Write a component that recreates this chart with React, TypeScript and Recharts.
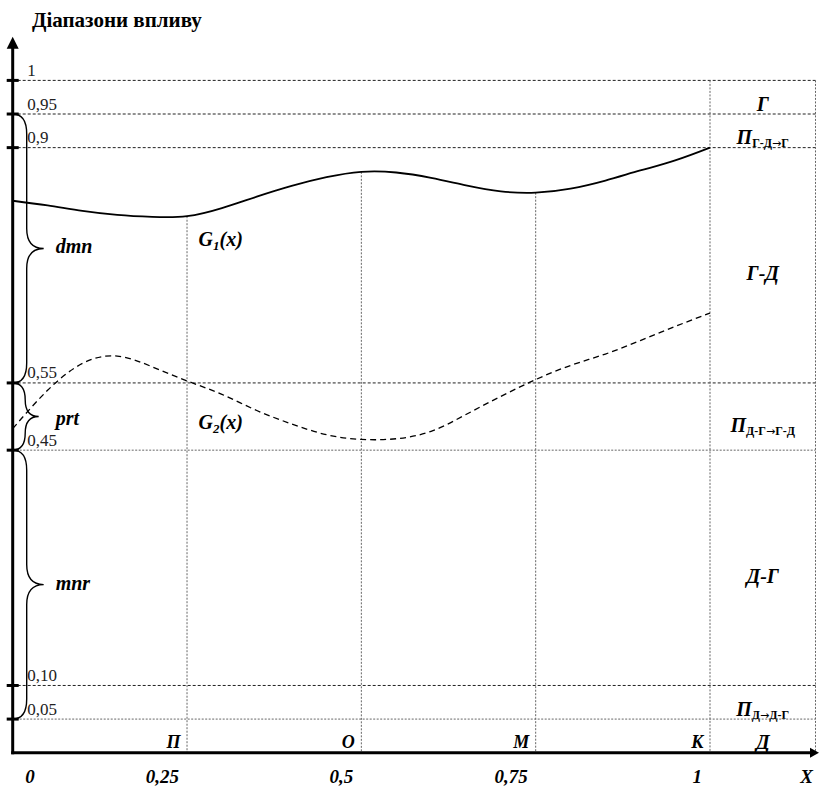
import React from 'react';
import { LineChart, Line, XAxis, YAxis, ReferenceLine, ReferenceArea, ReferenceDot } from 'recharts';

// ---- data ----
const xs = [0, 0.05, 0.1, 0.15, 0.2, 0.25, 0.3, 0.35, 0.4, 0.45, 0.5, 0.55, 0.6, 0.65, 0.7, 0.75, 0.8, 0.85, 0.9, 0.95, 1];
const g1 = [0.821, 0.814, 0.806, 0.8, 0.797, 0.798, 0.81, 0.827, 0.843, 0.856, 0.864, 0.863, 0.855, 0.844, 0.835, 0.833, 0.839, 0.851, 0.866, 0.881, 0.9];
const g2 = [0.482, 0.539, 0.579, 0.59, 0.574, 0.553, 0.533, 0.509, 0.489, 0.473, 0.466, 0.467, 0.478, 0.503, 0.53, 0.555, 0.576, 0.593, 0.613, 0.634, 0.654];

const xTicks = [0, 0.25, 0.5, 0.75, 1];
const xTickLabels = ['0', '0,25', '0,5', '0,75', '1'];
const xAxisName = 'X';

const pointXs = [0.25, 0.5, 0.75, 1];
const pointNames = ['П', 'О', 'М', 'К'];

const levels = [1, 0.95, 0.9, 0.55, 0.45, 0.1, 0.05];
const levelLabels = ['1', '0,95', '0,9', '0,55', '0,45', '0,10', '0,05'];

const zoneLow = [0.95, 0.9, 0.55, 0.45, 0.1, 0.05, 0];
const zoneHigh = [1, 0.95, 0.9, 0.55, 0.45, 0.1, 0.05];
const zoneNames = ['Г', 'П', 'Г-Д', 'П', 'Д-Г', 'П', 'Д'];
const zoneSubFrom = ['', 'Г-Д', '', 'Д-Г', '', 'Д', ''];
const zoneSubTo = ['', 'Г', '', 'Г-Д', '', 'Д-Г', ''];

const bandTop = [0.95, 0.55, 0.45];
const bandBottom = [0.55, 0.45, 0.05];
const bandNames = ['dmn', 'prt', 'mnr'];

const curveNames = ['G', 'G'];
const curveSubs = ['1', '2'];
const title = 'Діапазони впливу';

// ---- layout / style constants ----
const W = 819;
const H = 787;
const X_MAX = 1.1563;
const X_FRAME = 1.1513;
const Y_MAX = 1.065;
const TOP = 36.7;
const AXIS_W = 12.7;
const XAXIS_H = 34.3;
const SERIF = 'Liberation Serif';
const fineLevels = [0.45, 0.05];

const rows = xs.map((x, i) => ({ x, g1: g1[i], g2: g2[i] }));
const g1At = (x: number) => g1[xs.indexOf(x)];
const g2At = (x: number) => g2[xs.indexOf(x)];

const boldItalic = { fontFamily: SERIF, fontWeight: 'bold' as const, fontStyle: 'italic' as const, fill: '#000' };

const XTick = (p: any) => {
  const v = p.payload.value;
  const i = xTicks.indexOf(v);
  const label = i >= 0 ? xTickLabels[i] : xAxisName;
  const dx = v === 0 ? 22 : i >= 0 ? -8 : -6;
  return (
    <text x={p.x + dx} y={p.y + 30.5} textAnchor="end" fontSize={19} {...boldItalic}>
      {label}
    </text>
  );
};

const YTick = (p: any) => {
  const i = levels.indexOf(p.payload.value);
  return (
    <g>
      <line x1={p.x - 6} x2={p.x + 6} y1={p.y} y2={p.y} stroke="#000" strokeWidth={3} />
      <text x={p.x + 14.5} y={p.y - 4.5} fontSize={17} fontFamily={SERIF} fill="#222">
        {levelLabels[i]}
      </text>
    </g>
  );
};

const yAxisShape = (p: any) => {
  const top = Math.min(p.y1, p.y2);
  const bot = Math.max(p.y1, p.y2);
  return (
    <g>
      <line x1={p.x1} x2={p.x1} y1={bot + 1.5} y2={top + 8} stroke="#000" strokeWidth={3} />
      <polygon points={`${p.x1},${top} ${p.x1 - 6},${top + 12} ${p.x1 + 6},${top + 12}`} fill="#000" />
    </g>
  );
};

const xAxisShape = (p: any) => {
  const left = Math.min(p.x1, p.x2);
  const right = Math.max(p.x1, p.x2);
  return (
    <g>
      <line x1={left - 1.5} x2={right - 6} y1={p.y1} y2={p.y1} stroke="#000" strokeWidth={3} />
      <polygon points={`${right},${p.y1} ${right - 9},${p.y1 - 5} ${right - 9},${p.y1 + 5}`} fill="#000" />
    </g>
  );
};

const dropShape = (letter: string) => (p: any) => {
  const top = Math.min(p.y1, p.y2);
  const bot = Math.max(p.y1, p.y2);
  return (
    <g>
      <line x1={p.x1} x2={p.x1} y1={top} y2={bot} stroke="#666" strokeWidth={1} strokeDasharray="2 1.5" />
      {letter ? (
        <text x={p.x1 - 6.5} y={bot - 5} textAnchor="end" fontSize={18} {...boldItalic}>
          {letter}
        </text>
      ) : null}
    </g>
  );
};

const braceShape = (name: string) => (p: any) => {
  const top = Math.min(p.y1, p.y2);
  const bot = Math.max(p.y1, p.y2);
  const x0 = p.x1;
  const h = bot - top;
  const mid = (top + bot) / 2;
  const small = h < 90;
  const xv = x0 + (small ? 12.5 : 14);
  const xt = x0 + (small ? 26 : 31);
  const r = Math.min(20, h / 4);
  const d = `M${x0},${top} Q${xv},${top} ${xv},${top + r} L${xv},${mid - r} Q${xv},${mid} ${xt},${mid} Q${xv},${mid} ${xv},${mid + r} L${xv},${bot - r} Q${xv},${bot} ${x0},${bot}`;
  return (
    <g>
      <path d={d} fill="none" stroke="#000" strokeWidth={1.4} />
      <text x={x0 + 43} y={mid + (small ? 8 : 5)} fontSize={20} {...boldItalic}>
        {name}
      </text>
    </g>
  );
};

const zoneShape = (name: string, from: string, to: string) => (p: any) => {
  const cx = p.x + p.width / 2;
  const small = p.height < 45;
  const base = small ? p.y + p.height - 3.5 : p.y + p.height / 2 + 15;
  return (
    <text x={cx} y={base} textAnchor="middle" fontSize={20} {...boldItalic}>
      {name}
      {from ? (
        <tspan fontSize={12} fontStyle="normal" dy={3}>
          {from}
          <tspan fontFamily="DejaVu Sans" fontWeight="normal" fontSize={11}>→</tspan>
          {to}
        </tspan>
      ) : null}
    </text>
  );
};

const curveLabelShape = (name: string, sub: string, dy: number) => (p: any) => (
  <text x={p.cx + 11.5} y={p.cy + dy} fontSize={20} {...boldItalic}>
    {name}
    <tspan fontSize={13} dy={4}>
      {sub}
    </tspan>
    <tspan dy={-4}>(x)</tspan>
  </text>
);

export default function App() {
  return (
    <div style={{ position: 'absolute', left: 0, top: 0, width: W, height: H, background: '#fff', fontFamily: SERIF }}>
      <div
        style={{
          position: 'absolute',
          left: 32,
          top: 10,
          fontFamily: SERIF,
          fontWeight: 'bold',
          fontSize: 21,
          lineHeight: '21px',
          color: '#000',
          whiteSpace: 'nowrap',
        }}
      >
        {title}
      </div>
      <LineChart width={W} height={H} data={rows} margin={{ top: TOP, right: 0, bottom: 0, left: 0 }}>
        <XAxis
          dataKey="x"
          type="number"
          domain={[0, X_MAX]}
          allowDataOverflow
          ticks={[...xTicks, X_MAX]}
          interval={0}
          tick={(p: any) => <XTick {...p} />}
          axisLine={false}
          tickLine={false}
          tickSize={0}
          tickMargin={0}
          height={XAXIS_H}
        />
        <YAxis
          type="number"
          domain={[0, Y_MAX]}
          allowDataOverflow
          ticks={levels}
          interval={0}
          tick={(p: any) => <YTick {...p} />}
          axisLine={false}
          tickLine={false}
          tickSize={0}
          tickMargin={0}
          width={AXIS_W}
        />

        {levels.map((v) => (
          <ReferenceLine
            key={'lv' + v}
            segment={[{ x: 0, y: v }, { x: X_FRAME, y: v }]}
            stroke={fineLevels.includes(v) ? '#666' : '#222'}
            strokeWidth={1}
            strokeDasharray={fineLevels.includes(v) ? '2 1.5' : '3 2'}
            ifOverflow="visible"
          />
        ))}

        {pointXs.map((x, i) => (
          <ReferenceLine
            key={'pt' + x}
            segment={[{ x, y: 0 }, { x, y: x === 1 ? levels[0] : g1At(x) }]}
            shape={dropShape(pointNames[i])}
            ifOverflow="visible"
          />
        ))}
        <ReferenceLine
          segment={[{ x: X_FRAME, y: 0 }, { x: X_FRAME, y: levels[0] }]}
          shape={dropShape('')}
          ifOverflow="visible"
        />

        {zoneNames.map((n, i) => (
          <ReferenceArea
            key={'zn' + i}
            x1={1}
            x2={X_FRAME}
            y1={zoneLow[i]}
            y2={zoneHigh[i]}
            shape={zoneShape(n, zoneSubFrom[i], zoneSubTo[i])}
            ifOverflow="visible"
          />
        ))}

        {bandNames.map((n, i) => (
          <ReferenceLine
            key={'bd' + n}
            segment={[{ x: 0, y: bandTop[i] }, { x: 0, y: bandBottom[i] }]}
            shape={braceShape(n)}
            ifOverflow="visible"
          />
        ))}

        <ReferenceLine segment={[{ x: 0, y: 0 }, { x: 0, y: Y_MAX }]} shape={yAxisShape} ifOverflow="visible" />
        <ReferenceLine segment={[{ x: 0, y: 0 }, { x: X_MAX, y: 0 }]} shape={xAxisShape} ifOverflow="visible" />

        <Line
          type="natural"
          dataKey="g1"
          stroke="#000"
          strokeWidth={1.8}
          dot={false}
          activeDot={false}
          isAnimationActive={false}
        />
        <Line
          type="natural"
          dataKey="g2"
          stroke="#000"
          strokeWidth={1.3}
          strokeDasharray="6 4"
          dot={false}
          activeDot={false}
          isAnimationActive={false}
        />

        <ReferenceDot
          x={0.25}
          y={g1At(0.25)}
          r={0}
          shape={curveLabelShape(curveNames[0], curveSubs[0], 30)}
          ifOverflow="visible"
        />
        <ReferenceDot
          x={0.25}
          y={g2At(0.25)}
          r={0}
          shape={curveLabelShape(curveNames[1], curveSubs[1], 48)}
          ifOverflow="visible"
        />
      </LineChart>
    </div>
  );
}
